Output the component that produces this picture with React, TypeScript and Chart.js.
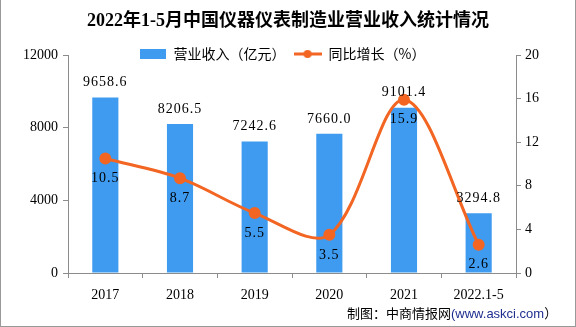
import React, { useEffect, useRef } from "react";
import { Chart, registerables } from "chart.js";

Chart.register(...registerables);

const categories = ["2017", "2018", "2019", "2020", "2021", "2022.1-5"];
const revenue = [9658.6, 8206.5, 7242.6, 7660.0, 9101.4, 3294.8];
const growth = [10.5, 8.7, 5.5, 3.5, 15.9, 2.6];
const revenueLabel = "营业收入（亿元）";
const growthLabel = "同比增长（%）";
const titleText = "2022年1-5月中国仪器仪表制造业营业收入统计情况";
const leftTicks = [0, 4000, 8000, 12000];
const rightTicks = [0, 4, 8, 12, 16, 20];

const BAR = "#3E9BF0";
const LINE = "#F26522";
const AXIS = "#8c8c8c";
const NUM_FONT = "'Liberation Serif', 'Noto Sans CJK SC', serif";
const CJK_FONT = "'Noto Sans CJK SC', sans-serif";

function makeBox(): HTMLCanvasElement {
  const c = document.createElement("canvas");
  c.width = 26;
  c.height = 10;
  const g = c.getContext("2d")!;
  g.fillStyle = BAR;
  g.fillRect(0, 0, 26, 10);
  return c;
}
function makeLineIcon(): HTMLCanvasElement {
  const c = document.createElement("canvas");
  c.width = 28;
  c.height = 10;
  const g = c.getContext("2d")!;
  g.strokeStyle = LINE;
  g.lineWidth = 3;
  g.beginPath();
  g.moveTo(0, 5);
  g.lineTo(28, 5);
  g.stroke();
  g.fillStyle = LINE;
  g.beginPath();
  g.arc(14, 5, 4, 0, Math.PI * 2);
  g.fill();
  return c;
}

// The legend takes no layout height; it is drawn overlapping the top of the plot, as in the reference.
const legendOverlay = {
  id: "legendOverlay",
  beforeLayout(chart: any) {
    const lg = chart.legend;
    if (lg && !lg._patched) {
      const orig = lg.fit.bind(lg);
      lg.fit = function () {
        orig();
        this._realHeight = this.height;
        this.height = 0;
      };
      lg._patched = true;
    }
  },
  beforeDraw(chart: any) {
    const lg = chart.legend;
    if (!lg) return;
    const h = lg._realHeight || 33;
    const center = chart.chartArea.top;
    lg.top = center - h / 2;
    lg.bottom = lg.top + h;
    lg.left = -6;
    lg.right = chart.width - 6;
  },
};

const labelPlugin = {
  id: "valueLabels",
  afterDatasetsDraw(chart: any) {
    const ctx = chart.ctx;
    ctx.save();
    ctx.fillStyle = "#000";
    ctx.font = `14px ${NUM_FONT}`;
    try { (ctx as any).letterSpacing = "1px"; } catch (e) {}
    ctx.textAlign = "center";
    const barMeta = chart.getDatasetMeta(0);
    barMeta.data.forEach((el: any, i: number) => {
      ctx.textBaseline = "bottom";
      ctx.fillText(revenue[i].toFixed(1), el.x, el.y - 8);
    });
    const lineMeta = chart.getDatasetMeta(1);
    lineMeta.data.forEach((el: any, i: number) => {
      ctx.textBaseline = "top";
      ctx.fillText(growth[i].toFixed(1), el.x, el.y + 13);
    });
    ctx.restore();
  },
};

const footerPlugin = {
  id: "footer",
  afterDraw(chart: any) {
    const ctx = chart.ctx;
    ctx.save();
    ctx.textBaseline = "middle";
    ctx.textAlign = "left";
    const a = "制图：中商情报网";
    const b = "(www.askci.com";
    const c = "）";
    const fa = `13px ${CJK_FONT}`;
    const fb = `13px 'Liberation Sans', sans-serif`;
    let x = 347;
    const y = 313;
    ctx.fillStyle = "#000";
    ctx.font = fa;
    ctx.fillText(a, x, y);
    x += ctx.measureText(a).width;
    ctx.fillStyle = "#1f2f8f";
    ctx.font = fb;
    ctx.fillText(b, x, y + 1);
    x += ctx.measureText(b).width;
    ctx.fillStyle = "#000";
    ctx.font = fa;
    ctx.fillText(c, x, y);
    ctx.restore();
  },
};

export default function App() {
  const ref = useRef<HTMLCanvasElement | null>(null);
  useEffect(() => {
    document.body.style.margin = "0";
    const box = makeBox();
    const lineIcon = makeLineIcon();
    const chart = new Chart(ref.current!, {
      type: "bar",
      data: {
        labels: categories,
        datasets: [
          {
            type: "bar",
            label: revenueLabel,
            data: revenue,
            backgroundColor: BAR,
            yAxisID: "y",
            barPercentage: 0.7,
            categoryPercentage: 0.5,
            order: 2,
          },
          {
            type: "line",
            label: growthLabel,
            data: growth,
            borderColor: LINE,
            backgroundColor: LINE,
            borderWidth: 3,
            pointRadius: 4.5,
            pointBackgroundColor: LINE,
            pointBorderColor: LINE,
            tension: 0.33,
            yAxisID: "y1",
            order: 1,
          },
        ],
      },
      options: {
        responsive: false,
        animation: false,
        layout: { padding: { left: 0, right: 0, top: 0, bottom: 0 } },
        plugins: {
          title: {
            display: true,
            text: titleText,
            color: "#000",
            font: { size: 18, weight: "bold", family: "'Liberation Serif', 'Noto Sans CJK SC', serif", lineHeight: 1.2 },
            padding: { top: 11, bottom: 22.4 },
          },
          legend: {
            display: true,
            position: "top",
            labels: {
              usePointStyle: true,
              pointStyleWidth: 28,
              boxHeight: 10,
              padding: 8,
              color: "#000",
              font: { size: 14, family: CJK_FONT },
              generateLabels: () => [
                { text: revenueLabel, pointStyle: box, fillStyle: BAR, strokeStyle: BAR, lineWidth: 0, datasetIndex: 0, hidden: false },
                { text: growthLabel, pointStyle: lineIcon, fillStyle: LINE, strokeStyle: LINE, lineWidth: 0, datasetIndex: 1, hidden: false },
              ] as any,
            },
          },
          tooltip: { enabled: false },
        },
        scales: {
          x: {
            grid: { display: true, drawOnChartArea: false, drawTicks: true, tickLength: 5, color: AXIS, offset: true },
            border: { display: true, color: AXIS },
            ticks: { color: "#000", font: { size: 14, family: NUM_FONT }, padding: 9 },
            afterFit: (s: any) => { s.height = 54; },
          },
          y: {
            position: "left",
            min: 0,
            max: 12000,
            afterBuildTicks: (s: any) => { s.ticks = leftTicks.map((v) => ({ value: v })); },
            grid: { display: true, drawOnChartArea: false, drawTicks: true, tickLength: 5, color: AXIS },
            border: { display: true, color: AXIS },
            ticks: { color: "#000", font: { size: 14, family: NUM_FONT }, padding: 5, callback: (v: any) => String(v) },
            afterFit: (s: any) => { s.width = 68; },
          },
          y1: {
            position: "right",
            min: 0,
            max: 20,
            afterBuildTicks: (s: any) => { s.ticks = rightTicks.map((v) => ({ value: v })); },
            grid: { display: true, drawOnChartArea: false, drawTicks: true, tickLength: 5, color: AXIS },
            border: { display: true, color: AXIS },
            ticks: { color: "#000", font: { size: 14, family: NUM_FONT }, padding: 4, callback: (v: any) => String(v) },
            afterFit: (s: any) => { s.width = 60; },
          },
        },
      } as any,
      plugins: [legendOverlay, labelPlugin, footerPlugin],
    });
    return () => chart.destroy();
  }, []);
  return (
    <div style={{ width: 576, height: 327, position: "relative", boxSizing: "border-box" }}>
      <canvas ref={ref} width={576} height={327} style={{ display: "block" }} />
      <div style={{ position: "absolute", left: 0, top: 0, width: 576, height: 327, boxSizing: "border-box", borderLeft: "1px solid #999", borderRight: "1px solid #999", borderBottom: "1px solid #999", pointerEvents: "none" }} />
    </div>
  );
}
